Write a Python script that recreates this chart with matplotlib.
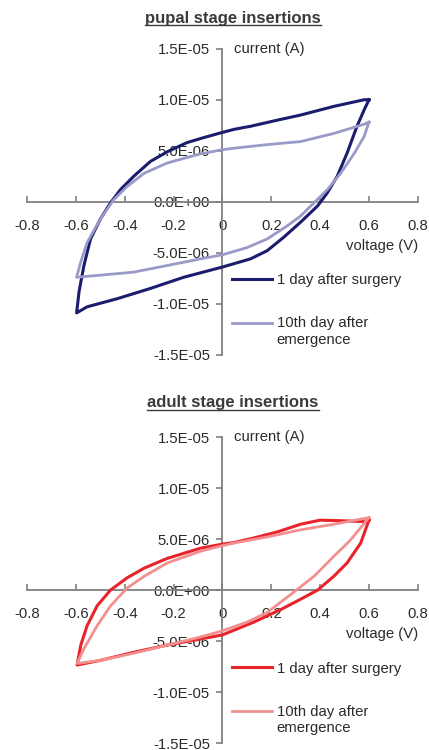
import numpy as np
import matplotlib.pyplot as plt
from matplotlib.ticker import FuncFormatter, MultipleLocator
from matplotlib.lines import Line2D
from matplotlib.legend_handler import HandlerLine2D

plt.rcParams['font.family'] = ['Liberation Sans', 'DejaVu Sans']

# values: voltage (V) and current (uA), one closed loop per series
pupal_day1_v = [0.6, 0.58, 0.456, 0.32, 0.225, 0.115, 0.048, 0.0, -0.075, -0.145, -0.226,
                -0.295, -0.363, -0.417, -0.458, -0.5, -0.54, -0.567, -0.587, -0.597,
                -0.554, -0.43, -0.295, -0.158, 0.0, 0.115, 0.183, 0.25, 0.32, 0.39, 0.43,
                0.47, 0.51, 0.55, 0.58, 0.6]
pupal_day1_i = [10.0, 10.0, 9.35, 8.5, 8.0, 7.4, 7.1, 6.8, 6.3, 5.8, 4.9,
                3.95, 2.5, 1.2, -0.1, -1.7, -3.65, -6.25, -8.8, -10.9,
                -10.3, -9.5, -8.5, -7.4, -6.4, -5.6, -4.8, -3.5, -2.0, -0.4, 0.9,
                2.5, 4.75, 7.35, 9.0, 10.0]

pupal_day10_v = [0.6, 0.58, 0.456, 0.32, 0.183, 0.048, 0.0, -0.09, -0.226, -0.32, -0.39,
                 -0.445, -0.5, -0.554, -0.58, -0.597, -0.5, -0.363, -0.226, -0.09, 0.0,
                 0.1, 0.183, 0.266, 0.32, 0.375, 0.43, 0.484, 0.54, 0.58, 0.6]
pupal_day10_i = [7.8, 7.6, 6.7, 5.9, 5.6, 5.25, 5.1, 4.7, 3.8, 2.8, 1.5,
                 0.2, -1.7, -4.0, -5.9, -7.4, -7.2, -6.9, -6.25, -5.6, -5.2,
                 -4.5, -3.65, -2.35, -1.4, -0.1, 1.2, 2.8, 4.75, 6.4, 7.8]

adult_day1_v = [0.6, 0.59, 0.48, 0.4, 0.32, 0.225, 0.128, 0.046, 0.0, -0.09, -0.226,
                -0.32, -0.39, -0.458, -0.513, -0.554, -0.58, -0.595, -0.5, -0.363,
                -0.226, -0.09, 0.0, 0.128, 0.24, 0.32, 0.39, 0.456, 0.51, 0.566, 0.59, 0.6]
adult_day1_i = [6.85, 6.7, 6.8, 6.85, 6.45, 5.7, 5.1, 4.65, 4.5, 4.1, 3.1,
                2.15, 1.2, 0.0, -1.55, -3.5, -5.4, -7.35, -6.9, -6.1,
                -5.4, -4.8, -4.4, -3.15, -1.9, -0.9, 0.0, 1.35, 2.65, 4.6, 6.2, 6.85]

adult_day10_v = [0.6, 0.456, 0.32, 0.183, 0.046, 0.0, -0.09, -0.226, -0.32, -0.39,
                 -0.458, -0.513, -0.567, -0.595, -0.5, -0.363, -0.226, -0.09, 0.0,
                 0.1, 0.183, 0.29, 0.375, 0.456, 0.524, 0.6]
adult_day10_i = [7.1, 6.45, 5.9, 5.2, 4.6, 4.35, 3.8, 2.65, 1.35, 0.2,
                 -1.55, -3.5, -5.75, -7.2, -6.9, -6.2, -5.4, -4.6, -4.0,
                 -3.15, -2.2, -0.25, 1.35, 3.3, 4.9, 7.1]

labels = ['1 day after surgery', '10th day after\nemergence']
titles = ['pupal stage insertions', 'adult stage insertions']
panels = [
    (pupal_day1_v, pupal_day1_i, pupal_day10_v, pupal_day10_i, '#1c1c6e', '#9a9ac8'),
    (adult_day1_v, adult_day1_i, adult_day10_v, adult_day10_i, '#e8232a', '#f29090'),
]

txt = '#2b2b2b'
fs = 10.7


# legend line of a two-line label sits level with the first line, as in Excel
class FirstLineHandler(HandlerLine2D):
    def create_artists(self, legend, orig_handle, xdescent, ydescent, width, height,
                       fontsize, trans):
        arts = super().create_artists(legend, orig_handle, xdescent, ydescent, width,
                                      height, fontsize, trans)
        for a in arts:
            a.set_ydata(np.asarray(a.get_ydata()) + 0.62 * fontsize)
        return arts


fig = plt.figure(figsize=(4.29, 7.5), dpi=100)
axes_rects = [[0.063, 0.527, 0.911, 0.408], [0.063, 0.0093, 0.911, 0.408]]
title_y = [1 - 18 / 750, 1 - 403 / 750]

title_texts = []
for k, (v1, i1, v2, i2, c1, c2) in enumerate(panels):
    ax = fig.add_axes(axes_rects[k])
    l1, = ax.plot(v1, np.array(i1) * 1e-6, color=c1, lw=2.2, zorder=3, label=labels[0])
    l2, = ax.plot(v2, np.array(i2) * 1e-6, color=c2, lw=2.0, zorder=3, label=labels[1])

    ax.set_xlim(-0.8, 0.8)
    ax.set_ylim(-1.5e-5, 1.5e-5)
    ax.xaxis.set_major_locator(MultipleLocator(0.2))
    ax.yaxis.set_major_locator(MultipleLocator(5e-6))
    ax.xaxis.set_major_formatter(FuncFormatter(lambda v, p: '0' if abs(v) < 1e-9 else f'{v:.1f}'))
    ax.yaxis.set_major_formatter(FuncFormatter(lambda v, p: f'{v:.1E}'))

    for s in ['top', 'right']:
        ax.spines[s].set_visible(False)
    ax.spines['left'].set_position(('data', 0))
    ax.spines['bottom'].set_position(('data', 0))
    for s in ['left', 'bottom']:
        ax.spines[s].set_color('#808080')
        ax.spines[s].set_linewidth(1.3)
    ax.tick_params(axis='x', direction='in', length=4, width=1.2, color='#808080',
                   labelsize=fs, labelcolor=txt, pad=12.5)
    ax.tick_params(axis='y', direction='out', length=4, width=1.2, color='#808080',
                   labelsize=fs, labelcolor=txt, pad=5)
    ax.patch.set_visible(False)

    ax.text(0.53, 1.0, 'current (A)', transform=ax.transAxes, fontsize=fs, color=txt,
            ha='left', va='center')
    ax.text(1.0, 0.356, 'voltage (V)', transform=ax.transAxes, fontsize=fs, color=txt,
            ha='right', va='center')

    ax.legend(handles=[l1, l2], loc='upper left', bbox_to_anchor=(0.525, 0.266),
              frameon=False, fontsize=fs, handlelength=2.7, handletextpad=0.3,
              labelspacing=1.95, borderpad=0, borderaxespad=0, labelcolor=txt,
              handler_map={l2: FirstLineHandler()})

    t = fig.text(233 / 429, title_y[k], titles[k], fontsize=12, fontweight='bold',
                 color='#3a3a3a', ha='center', va='center')
    title_texts.append(t)

# underline the titles
fig.canvas.draw()
r = fig.canvas.get_renderer()
for t in title_texts:
    bb = t.get_window_extent(r).transformed(fig.transFigure.inverted())
    fig.add_artist(Line2D([bb.x0, bb.x1], [bb.y0 + 0.001, bb.y0 + 0.001],
                          transform=fig.transFigure, color='#3a3a3a', lw=1.0))

fig.savefig('out.png', dpi=100)
